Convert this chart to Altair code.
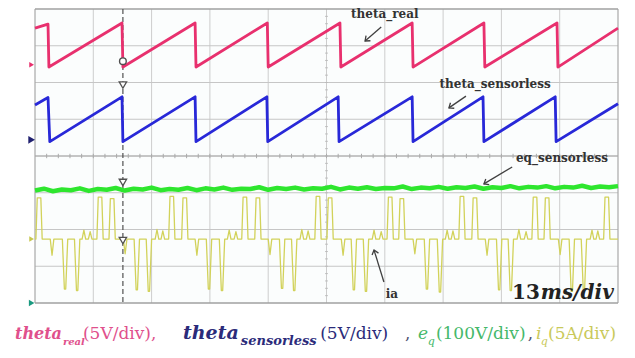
import math
import altair as alt
import pandas as pd

# ---------------- data (time in ms, 13 ms/div) ----------------
# theta_real  (5 V/div, ground marker at 6.48 div)
real_t = [0, 2.9, 3.1, 19.4, 19.6, 35.7, 35.9, 51.8, 52.0, 68.0, 68.2, 84.1, 84.3, 100.1, 100.3, 116.4, 116.6, 130]
real_v = [5.0, 5.55, -0.3, 5.7, -0.3, 5.7, -0.3, 5.7, -0.3, 5.7, -0.3, 5.7, -0.3, 5.7, -0.3, 5.7, -0.3, 5.0]

# theta_sensorless (5 V/div, ground marker at 4.44 div)
sens_t = [0, 2.9, 3.3, 19.4, 19.6, 35.7, 35.9, 51.7, 51.9, 67.6, 67.8, 84.1, 84.3, 99.9, 100.1, 116.0, 116.2, 130]
sens_v = [4.75, 5.75, -0.25, 5.85, -0.25, 5.85, -0.25, 5.85, -0.25, 5.85, -0.25, 5.85, -0.25, 5.85, -0.25, 5.85, -0.25, 4.9]

# eq_sensorless (100 V/div, ground at 0 div), sampled every 2 ms
eq_t = list(range(0, 131, 2))
eq_v = [306, 311, 304, 309, 307, 312, 305, 310, 308, 313, 306, 311, 309, 314, 307, 310,
        308, 313, 307, 312, 309, 314, 308, 311, 310, 315, 308, 313, 310, 314, 309, 312,
        311, 316, 309, 314, 311, 315, 310, 313, 312, 317, 310, 314, 312, 316, 311, 315,
        313, 317, 311, 315, 313, 318, 312, 316, 314, 318, 312, 316, 314, 319, 313, 317,
        315, 318]

# ia (5 A/div, ground marker at 1.74 div): pulse centres and peaks
ia_pos_t = [0.9, 14.5, 17.2, 30.5, 33.4, 46.8, 49.7, 63.1, 65.8, 79.2, 81.8, 95.2, 98.1, 111.5, 114.2, 127.5]
ia_pos_a = [5.6, 5.7, 5.5, 5.8, 5.6, 5.7, 5.6, 5.8, 5.6, 5.7, 5.5, 5.8, 5.6, 5.7, 5.6, 5.7]
ia_neg_t = [6.7, 9.4, 22.7, 25.4, 38.8, 41.7, 55.1, 57.8, 71.1, 73.8, 87.4, 90.3, 103.5, 106.1, 119.7, 122.4]
ia_neg_a = [-6.8, -7.0, -6.9, -7.1, -6.8, -7.0, -6.7, -7.0, -6.9, -7.1, -6.8, -7.2, -6.9, -7.0, -7.1, -6.9]
ia_dip_t = [3.8, 20.1, 36.1, 52.4, 68.7, 84.7, 100.8, 117.1]
ia_dip_a = [-2.2, -2.0, -2.2, -2.1, -2.2, -2.0, -2.2, -2.1]
ia_bump_t = [10.9, 12.3, 27.2, 28.5, 43.3, 44.8, 59.5, 60.9, 75.6, 77.2, 91.9, 93.2, 107.9, 109.5, 124.2, 125.5]
ia_bump_a = [1.2, 1.0, 1.3, 1.1, 1.2, 1.0, 1.3, 1.1, 1.2, 1.0, 1.2, 1.1, 1.3, 1.0, 1.2, 1.1]

cursor_t = 19.6

# ---------------- helpers ----------------
XS = alt.Scale(domain=[0, 130], nice=False, zero=False)
YS = alt.Scale(domain=[0, 8], nice=False, zero=False)
PX_X = 583 / 130
PX_Y = 294 / 8


def trace_df(ts, vals, offset, per_div):
    return pd.DataFrame({"t": ts, "d": [offset + v / per_div for v in vals], "i": range(len(ts))})


ia_pts = [(0.0, 0.0), (130.0, 0.0)]
for c, p in zip(ia_pos_t, ia_pos_a):
    ia_pts += [(c - 0.7, 0), (c - 0.4, p), (c + 0.4, p), (c + 0.7, 0)]
for c, p in zip(ia_neg_t, ia_neg_a):
    ia_pts += [(c - 0.6, 0), (c - 0.15, p), (c + 0.15, p), (c + 0.6, 0)]
for c, p in zip(ia_dip_t, ia_dip_a):
    ia_pts += [(c - 0.4, 0), (c, p), (c + 0.4, 0)]
for c, p in zip(ia_bump_t, ia_bump_a):
    ia_pts += [(c - 0.4, 0), (c, p), (c + 0.4, 0)]
ia_pts.sort()

df_real = trace_df(real_t, real_v, 6.48, 5)
df_sens = trace_df(sens_t, sens_v, 4.44, 5)
df_eq = trace_df(eq_t, eq_v, 0, 100)
df_ia = trace_df([p[0] for p in ia_pts], [p[1] for p in ia_pts], 1.74, 5)


def line(df, color, width, opacity=1.0):
    return alt.Chart(df).mark_line(color=color, strokeWidth=width, opacity=opacity, strokeJoin="round").encode(
        x=alt.X("t:Q", scale=XS, axis=None),
        y=alt.Y("d:Q", scale=YS, axis=None),
        order=alt.Order("i:Q"),
    )


# ---------------- grid ----------------
vgrid = alt.Chart(pd.DataFrame({"t": [13 * k for k in range(1, 10)]})).mark_rule(
    color="#cdcdcd", strokeWidth=1).encode(x=alt.X("t:Q", scale=XS, axis=None))
hgrid = alt.Chart(pd.DataFrame({"d": list(range(1, 8))})).mark_rule(
    color="#c6c6c6", strokeWidth=1).encode(y=alt.Y("d:Q", scale=YS, axis=None))
frame_v = alt.Chart(pd.DataFrame({"t": [0, 130]})).mark_rule(
    color="#a8a8a8", strokeWidth=1.2).encode(x=alt.X("t:Q", scale=XS, axis=None))
frame_h = alt.Chart(pd.DataFrame({"d": [0, 8]})).mark_rule(
    color="#a0a0a0", strokeWidth=1.6).encode(y=alt.Y("d:Q", scale=YS, axis=None))
hmid = alt.Chart(pd.DataFrame({"d": [4]})).mark_rule(
    color="#aaaaaa", strokeWidth=1.2).encode(y=alt.Y("d:Q", scale=YS, axis=None))

ticks_h = pd.DataFrame({"t": [k * 2.6 for k in range(1, 50)]})
ticks_h["a"] = 3.94
ticks_h["b"] = 4.06
minor_h = alt.Chart(ticks_h).mark_rule(color="#aaaaaa", strokeWidth=1).encode(
    x=alt.X("t:Q", scale=XS, axis=None), y=alt.Y("a:Q", scale=YS, axis=None), y2="b:Q")
ticks_v = pd.DataFrame({"d": [k * 0.2 for k in range(1, 40)]})
ticks_v["a"] = 64.7
ticks_v["b"] = 65.3
minor_v = alt.Chart(ticks_v).mark_rule(color="#bbbbbb", strokeWidth=1).encode(
    y=alt.Y("d:Q", scale=YS, axis=None), x=alt.X("a:Q", scale=XS, axis=None), x2="b:Q")

# ---------------- cursor ----------------
cursor = alt.Chart(pd.DataFrame({"t": [cursor_t]})).mark_rule(
    color="#505050", strokeWidth=1.2, strokeDash=[5, 3]).encode(x=alt.X("t:Q", scale=XS, axis=None))
cur_circ = alt.Chart(pd.DataFrame({"t": [cursor_t], "d": [6.58]})).mark_point(
    shape="circle", filled=True, fill="white", stroke="#505050", strokeWidth=1.4, size=45, opacity=1).encode(
    x=alt.X("t:Q", scale=XS, axis=None), y=alt.Y("d:Q", scale=YS, axis=None))
cur_tri = alt.Chart(pd.DataFrame({"t": [cursor_t] * 3, "d": [5.93, 3.28, 1.70]})).mark_point(
    shape="triangle-down", filled=True, fill="white", stroke="#505050", strokeWidth=1.3, size=55, opacity=1).encode(
    x=alt.X("t:Q", scale=XS, axis=None), y=alt.Y("d:Q", scale=YS, axis=None))

# ---------------- ground markers ----------------
gm = pd.DataFrame({"t": [-0.75, -0.75, -0.75, -0.75], "d": [6.48, 4.44, 1.74, 0.0],
                   "c": ["#e8306e", "#202070", "#c8c850", "#1a9a80"], "s": [30, 60, 30, 40]})
markers = alt.Chart(gm).mark_point(shape="triangle-right", filled=True, opacity=1).encode(
    x=alt.X("t:Q", scale=XS, axis=None), y=alt.Y("d:Q", scale=YS, axis=None),
    color=alt.Color("c:N", scale=None), size=alt.Size("s:Q", scale=None))

# ---------------- annotations ----------------
ann = pd.DataFrame({
    "txt": ["theta_real", "theta_sensorless", "eq_sensorless", "ia"],
    "t": [78.0, 102.6, 117.5, 79.6],
    "d": [7.75, 5.85, 3.84, 0.14],
})
ann_text = alt.Chart(ann).mark_text(font="DejaVu Serif", fontWeight="bold", fontSize=12,
                                    color="#333333", align="center", baseline="alphabetic").encode(
    x=alt.X("t:Q", scale=XS, axis=None), y=alt.Y("d:Q", scale=YS, axis=None), text="txt:N")

arr = pd.DataFrame({"t1": [77.2, 96.1, 106.4, 77.8], "d1": [7.51, 5.63, 3.70, 0.57],
                    "t2": [73.6, 92.3, 100.1, 75.6], "d2": [7.13, 5.31, 3.24, 1.44]})
arr["ang"] = [math.degrees(math.atan2(-(b2 - b1) * PX_Y, (a2 - a1) * PX_X)) % 360
              for a1, b1, a2, b2 in zip(arr.t1, arr.d1, arr.t2, arr.d2)]
arr_line = alt.Chart(arr).mark_rule(color="#404040", strokeWidth=1.3).encode(
    x=alt.X("t1:Q", scale=XS, axis=None), y=alt.Y("d1:Q", scale=YS, axis=None), x2="t2:Q", y2="d2:Q")
arr_head = alt.Chart(arr).mark_point(shape="M -1 -0.8 L 0 0 L -1 0.8", filled=False, size=70,
                                     stroke="#404040", strokeWidth=1.3, opacity=1).encode(
    x=alt.X("t2:Q", scale=XS, axis=None), y=alt.Y("d2:Q", scale=YS, axis=None),
    angle=alt.Angle("ang:Q", scale=None))

div13 = alt.Chart(pd.DataFrame({"t": [112.6], "d": [0.11], "txt": ["13"]})).mark_text(
    font="DejaVu Serif", fontSize=20, fontWeight="bold", color="#222222", align="right",
    baseline="alphabetic").encode(
    x=alt.X("t:Q", scale=XS, axis=None), y=alt.Y("d:Q", scale=YS, axis=None), text="txt:N")
divms = alt.Chart(pd.DataFrame({"t": [112.8], "d": [0.11], "txt": ["ms/div"]})).mark_text(
    font="DejaVu Serif", fontSize=20, fontStyle="italic", fontWeight="bold", color="#222222", align="left",
    baseline="alphabetic").encode(
    x=alt.X("t:Q", scale=XS, axis=None), y=alt.Y("d:Q", scale=YS, axis=None), text="txt:N")

# ---------------- legend line below ----------------
PINK, NAVY, GRN, YEL, DARK = "#e0508c", "#2b2b7a", "#45b86a", "#c9c95a", "#505070"
MAIN, SUB = -0.98, -1.15
leg = pd.DataFrame([
    ("theta", -4.46, MAIN, PINK, 16, "bi"),
    ("real", 6.24, SUB, PINK, 10, "bi"),
    ("(5V/div),", 10.70, MAIN, PINK, 17, "n"),
    ("theta", 33.0, MAIN, NAVY, 19, "bi"),
    ("sensorless", 45.9, SUB, NAVY, 13, "bi"),
    ("(5V/div)", 63.6, MAIN, NAVY, 17, "n"),
    (",", 82.5, MAIN, DARK, 17, "n"),
    ("e", 85.4, MAIN, GRN, 17, "i"),
    ("q", 87.6, SUB, GRN, 11, "i"),
    ("(100V/div)", 89.4, MAIN, GRN, 17, "n"),
    (",", 109.9, MAIN, DARK, 17, "n"),
    ("i", 111.7, MAIN, YEL, 17, "i"),
    ("q", 112.8, SUB, YEL, 11, "i"),
    ("(5A/div)", 114.4, MAIN, YEL, 17, "n"),
], columns=["txt", "t", "d", "c", "s", "st"])


def leg_layer(style, **kw):
    return alt.Chart(leg[leg.st == style]).mark_text(font="DejaVu Serif", align="left",
                                                     baseline="alphabetic", **kw).encode(
        x=alt.X("t:Q", scale=XS, axis=None), y=alt.Y("d:Q", scale=YS, axis=None),
        text="txt:N", color=alt.Color("c:N", scale=None), size=alt.Size("s:Q", scale=None))


leg_bi = leg_layer("bi", fontWeight="bold", fontStyle="italic")
leg_n = leg_layer("n")
leg_i = leg_layer("i", fontStyle="italic")

chart = alt.layer(
    vgrid, hgrid, minor_h, minor_v, hmid, frame_v, frame_h,
    cursor,
    line(df_ia, "#d2d25a", 1.3),
    line(df_eq, "#2ee62e", 4.5),
    line(df_real, "#e8306e", 2.8),
    line(df_sens, "#2828d8", 2.8),
    cur_circ, cur_tri, markers,
    arr_line, arr_head, ann_text, div13, divms,
    leg_bi, leg_n, leg_i,
).properties(
    width=583, height=294,
    autosize=alt.AutoSizeParams(type="none"),
    padding={"left": 27, "top": 1, "right": 9, "bottom": 47},
    background="white",
).configure_view(stroke=None, fill="#fbfdfd")

chart.save("out.html", embed_options={"renderer": "svg", "actions": False})
